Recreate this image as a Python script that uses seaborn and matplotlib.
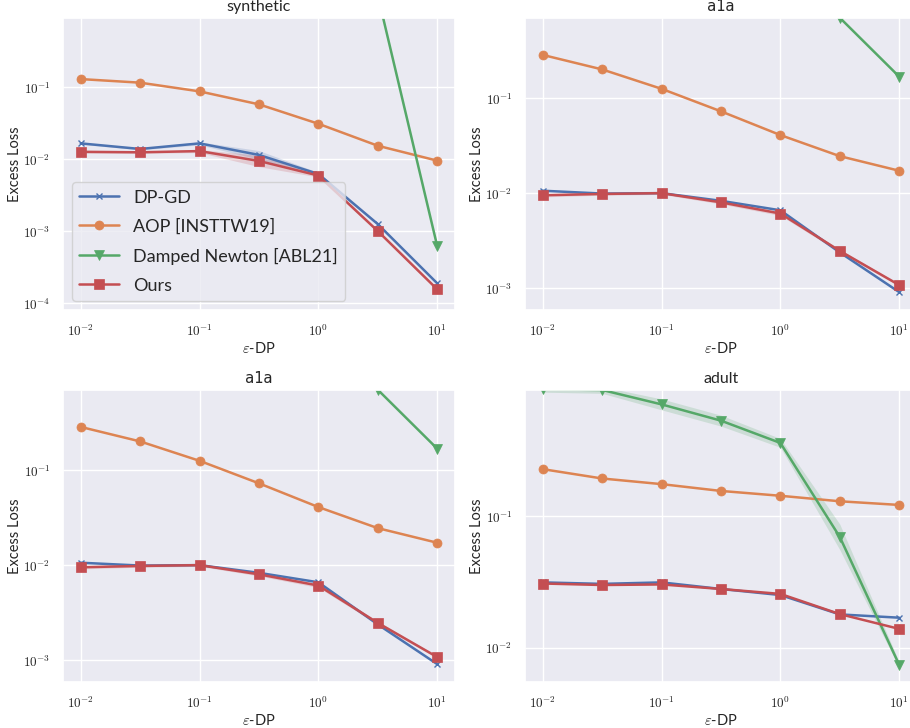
import numpy as np
import pandas as pd
import matplotlib
matplotlib.use("Agg")
import matplotlib.pyplot as plt
import seaborn as sns
from matplotlib.ticker import FuncFormatter, LogLocator, NullLocator

nan = np.nan

# ---------------- data ----------------
eps = [0.01, 0.0316, 0.1, 0.316, 1.0, 3.16, 10.0]
methods = ["DP-GD", "AOP [INSTTW19]", "Damped Newton [ABL21]", "Ours"]
titles = ["synthetic", "a1a", "a1a", "adult"]

syn_dpgd = [0.0165, 0.0138, 0.0165, 0.0114, 0.0062, 0.00125, 0.000188]
syn_aop = [0.129, 0.115, 0.087, 0.0575, 0.0309, 0.0153, 0.0095]
syn_newton = [9e4, 6e4, 3e4, 1.5e4, 5700, nan, 0.00062]
syn_ours = [0.0126, 0.0124, 0.0129, 0.0094, 0.0059, 0.0010, 0.000155]

a1a_dpgd = [0.0106, 0.0099, 0.0100, 0.0083, 0.0066, 0.00238, 0.00091]
a1a_aop = [0.284, 0.200, 0.125, 0.0725, 0.0408, 0.0245, 0.0172]
a1a_newton = [20.0, 12.0, 6.0, 3.0, 1.6, 0.70, 0.168]
a1a_ours = [0.0095, 0.0098, 0.0100, 0.0080, 0.0061, 0.00247, 0.00108]

adult_dpgd = [0.0313, 0.0305, 0.0313, 0.0279, 0.0251, 0.0179, 0.0169]
adult_aop = [0.226, 0.192, 0.174, 0.1545, 0.142, 0.129, 0.121]
adult_newton = [0.91, 0.90, 0.70, 0.527, 0.357, 0.0693, 0.00743]
adult_ours = [0.0307, 0.0299, 0.0302, 0.0279, 0.0256, 0.0180, 0.0139]

# multiplicative spread of the shaded bands (1.0 = no band)
syn_dpgd_sp = [1.03, 1.03, 1.05, 1.15, 1.05, 1.05, 1.03]
syn_ours_sp = [1.04, 1.03, 1.05, 1.20, 1.05, 1.05, 1.03]
a1a_ours_sp = [1.04, 1.03, 1.03, 1.04, 1.05, 1.04, 1.03]
adult_newton_sp = [1.05, 1.06, 1.10, 1.10, 1.08, 1.25, 1.05]

series = [
    [syn_dpgd, syn_aop, syn_newton, syn_ours],
    [a1a_dpgd, a1a_aop, a1a_newton, a1a_ours],
    [a1a_dpgd, a1a_aop, a1a_newton, a1a_ours],
    [adult_dpgd, adult_aop, adult_newton, adult_ours],
]
spreads = [
    {0: syn_dpgd_sp, 3: syn_ours_sp},
    {3: a1a_ours_sp},
    {3: a1a_ours_sp},
    {2: adult_newton_sp},
]
ylims = [(8e-5, 0.91), (5.9e-4, 0.695), (5.9e-4, 0.695), (0.0055, 0.90)]

# ---------------- style ----------------
sns.set_theme(style="darkgrid")
plt.rcParams["font.family"] = ["Lato", "DejaVu Sans"]
plt.rcParams["mathtext.fontset"] = "cm"

palette = sns.color_palette("deep")
colors = [palette[0], palette[1], palette[2], palette[3]]
markers = ["x", "o", "v", "s"]

fig = plt.figure(figsize=(9.10, 7.28), dpi=100)
W, H = 910.0, 728.0
rects = [
    (63 / W, 1 - 310 / H, 392 / W, 292 / H),
    (525 / W, 1 - 310 / H, 392 / W, 292 / H),
    (63 / W, 1 - 682 / H, 392 / W, 292 / H),
    (525 / W, 1 - 682 / H, 392 / W, 292 / H),
]

fmt = FuncFormatter(lambda v, p: r"$10^{%d}$" % int(round(np.log10(v))))

for k in range(4):
    ax = fig.add_axes(rects[k])
    for i, m in enumerate(methods):
        df = pd.DataFrame({"eps": eps, "loss": series[k][i]}).dropna()
        sp = spreads[k].get(i)
        if sp is not None:
            s = pd.Series(sp, index=range(len(eps))).loc[df.index]
            ax.fill_between(df["eps"], df["loss"] / s, df["loss"] * s,
                            color=colors[i], alpha=0.2, linewidth=0)
        is_x = markers[i] == "x"
        sns.lineplot(data=df, x="eps", y="loss", ax=ax, color=colors[i],
                     marker=markers[i], markersize=5 if is_x else 6.5,
                     markeredgecolor=colors[i],
                     markeredgewidth=1.0 if is_x else 0.5,
                     linewidth=1.8, label=m, errorbar=None)
    ax.set_xscale("log")
    ax.set_yscale("log")
    ax.set_xlim(10 ** (-2.15), 10 ** 1.15)
    ax.set_ylim(*ylims[k])
    ax.xaxis.set_major_locator(LogLocator(base=10, numticks=10))
    ax.yaxis.set_major_locator(LogLocator(base=10, numticks=10))
    ax.xaxis.set_minor_locator(NullLocator())
    ax.yaxis.set_minor_locator(NullLocator())
    ax.xaxis.set_major_formatter(fmt)
    ax.yaxis.set_major_formatter(fmt)
    ax.tick_params(axis="both", labelsize=9.5, pad=3)
    ax.set_xlabel(r"$\varepsilon$-DP", fontsize=10.5, labelpad=2)
    ax.set_ylabel("Excess Loss", fontsize=10.5, labelpad=1)
    if titles[k] == "a1a":
        ax.set_title(titles[k], fontsize=11, family=["DejaVu Sans Mono"], pad=5)
    else:
        ax.set_title(titles[k], fontsize=11.5, pad=5)
    if k == 0:
        ax.legend(loc="lower left", fontsize=13, handlelength=2.2,
                  labelspacing=0.72)
    else:
        ax.get_legend().remove()

fig.savefig("out.png", dpi=100)
